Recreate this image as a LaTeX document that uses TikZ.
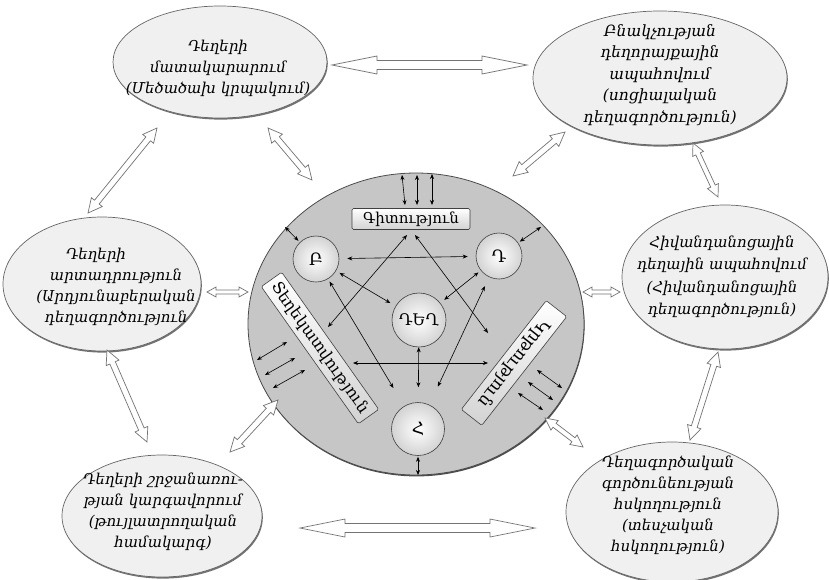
\documentclass[tikz,border=0pt]{standalone}
\usepackage{fontspec}
\setmainfont{DejaVu Serif}
\usetikzlibrary{arrows.meta,calc,shapes.geometric,shadows}
\newcommand\hollowarrow[6][]{%
  \coordinate (ha1) at ($(#2)!#4!(#3)$);
  \coordinate (ha2) at ($(#3)!#4!(#2)$);
  \draw[bigarr,#1] (#2) -- ($(ha1)!#5!90:(#3)$) -- ($(ha1)!#6!90:(#3)$)
    -- ($(ha2)!#6!-90:(#2)$) -- ($(ha2)!#5!-90:(#2)$) -- (#3)
    -- ($(ha2)!#5!90:(#2)$) -- ($(ha2)!#6!90:(#2)$)
    -- ($(ha1)!#6!-90:(#3)$) -- ($(ha1)!#5!-90:(#3)$) -- cycle;
}
\begin{document}
\begin{tikzpicture}[x=1pt,y=-1pt,
  outer/.style={ellipse, draw=black!60, line width=0.7pt, fill=gray!12, inner sep=0pt,
     drop shadow={shadow xshift=0.8pt,shadow yshift=-1.6pt,fill=black!55,opacity=1}},
  otext/.style={align=center, inner sep=0pt},
  bigc/.style={ellipse, draw=black!70, line width=0.8pt, fill=gray!45, inner sep=0pt,
     drop shadow={shadow xshift=0.6pt,shadow yshift=-1.4pt,fill=black!70,opacity=1}},
  ball/.style={circle, draw=black!75, line width=0.6pt, inner sep=0pt, shading=radial,
     inner color=white, outer color=gray!35, font=\fontsize{17}{17}\selectfont},
  boxr/.style={rectangle, rounded corners=1.5pt, draw=black!75, line width=0.6pt, inner sep=0pt,
     top color=white, bottom color=gray!35, font=\fontsize{16}{16}\selectfont},
  sarr/.style={{Stealth[length=5pt,width=4pt]}-{Stealth[length=5pt,width=4pt]}, line width=0.6pt},
  bigarr/.style={draw=black!55, line width=0.7pt, fill=white, line join=miter}
]
\useasboundingbox (0,0) rectangle (829,579);

% outer ellipses
\node[outer, minimum width=214, minimum height=112] (tl) at (220,62) {};
\node[outer, minimum width=254, minimum height=134] (tr) at (660,78) {};
\node[outer, minimum width=198, minimum height=134] (ml) at (102,284) {};
\node[outer, minimum width=206, minimum height=144] (mr) at (725,277) {};
\node[outer, minimum width=200, minimum height=122] (bl) at (162,516) {};
\node[outer, minimum width=212, minimum height=140] (br) at (672,512) {};

\begin{scope}[every node/.style={otext, font=\itshape\fontsize{15}{21}\selectfont}]
\node (tlt) at (218,68) {Դեղերի\\ մատակարարում\\ (Մեծածախ կրպակում)};
\node[font=\itshape\fontsize{15.5}{21.5}\selectfont] (trt) at (660,75) {Բնակչության\\ դեղորայքային\\ ապահովում\\ (սոցիալական\\ դեղագործություն)};
\node (mlt) at (116,287) {Դեղերի\hspace*{40pt}\\ արտադրություն\\ (Արդյունաբերական\\ դեղագործություն};
\node[font=\itshape\fontsize{15}{22.5}\selectfont] (mrt) at (722,277) {Հիվանդանոցային\\ դեղային ապահովում\\ (Հիվանդանոցային\\ դեղագործություն)};
\node (blt) at (163,512) {Դեղերի շրջանառու-\\ թյան կարգավորում\\ (թույլատրողական\\ համակարգ)};
\node (brt) at (668,505) {Դեղագործական\\ գործունեության\\ հսկողություն\\ (տեսչական\\ հսկողություն)};
\end{scope}

% central ellipse
\node[bigc, minimum width=336, minimum height=302] (C) at (416,324) {};
\node[ball, minimum size=46] (B) at (316,259) {Բ};
\node[ball, minimum size=46] (D) at (499,256) {Դ};
\node[ball, minimum size=54, font=\fontsize{16}{16}\selectfont] (DEG) at (419,320) {ԴԵՂ};
\node[ball, minimum size=53] (H) at (418,429) {Հ};
\node[boxr, minimum width=118, minimum height=21, font=\fontsize{15}{15}\selectfont] (G) at (411,219) {Գիտություն};
\node[boxr, rotate=-54.7, minimum width=168, minimum height=25] (T) at (320,348) {Տեղեկատվություն};
\node[boxr, rotate=232, minimum width=138, minimum height=26, font=\fontsize{17}{17}\selectfont] (K) at (514,363) {Կրթություն};

% big hollow arrows
\coordinate (p1) at (332,65); \coordinate (p2) at (527,65);
\coordinate (p3) at (300,528); \coordinate (p4) at (535,528);
\coordinate (p5) at (268,128); \coordinate (p6) at (312,180);
\coordinate (p7) at (565,132); \coordinate (p8) at (513,176);
\coordinate (p9) at (157,128); \coordinate (p10) at (88,213);
\coordinate (p11) at (693,143); \coordinate (p12) at (718,197);
\coordinate (p13) at (207,292); \coordinate (p14) at (248,292);
\coordinate (p15) at (583,292); \coordinate (p16) at (620,292);
\coordinate (p17) at (107,350); \coordinate (p18) at (147,442);
\coordinate (p19) at (718,352); \coordinate (p20) at (690,440);
\coordinate (p21) at (230,452); \coordinate (p22) at (278,400);
\coordinate (p23) at (583,447); \coordinate (p24) at (545,418);
\hollowarrow{p1}{p2}{45pt}{9pt}{4.5pt}
\hollowarrow{p3}{p4}{45pt}{9pt}{4.5pt}
\hollowarrow{p5}{p6}{14pt}{7pt}{3pt}
\hollowarrow{p7}{p8}{14pt}{7pt}{3pt}
\hollowarrow{p9}{p10}{14pt}{7pt}{3pt}
\hollowarrow{p11}{p12}{12pt}{6pt}{2.5pt}
\hollowarrow{p13}{p14}{9pt}{5pt}{2pt}
\hollowarrow{p15}{p16}{9pt}{5pt}{2pt}
\hollowarrow{p17}{p18}{14pt}{7pt}{3pt}
\hollowarrow{p19}{p20}{14pt}{7pt}{3pt}
\hollowarrow{p21}{p22}{14pt}{7pt}{3pt}
\hollowarrow{p23}{p24}{12pt}{6pt}{2.5pt}

% small arrows
\coordinate (s1a) at (402,175); \coordinate (s1b) at (405,205);
\coordinate (s2a) at (417,175); \coordinate (s2b) at (417,205);
\coordinate (s3a) at (432,174); \coordinate (s3b) at (432,205);
\draw[sarr] (s1a) -- (s1b);
\draw[sarr] (s2a) -- (s2b);
\draw[sarr] (s3a) -- (s3b);
\coordinate (c1) at (285,227); \draw[sarr, shorten >=2pt] (c1) -- (B);
\coordinate (c2) at (541,227); \draw[sarr, shorten >=2pt] (c2) -- (D);
\draw[sarr, shorten <=8pt, shorten >=8pt] (B) -- (D);
\draw[sarr, shorten <=4pt, shorten >=6pt] (B) -- (DEG);
\draw[sarr, shorten <=3pt, shorten >=5pt] (D) -- (DEG);
\draw[sarr, shorten <=3pt, shorten >=21pt] (B) -- (H);
\draw[sarr, shorten <=10pt, shorten >=20pt] (D) -- (H);
\draw[sarr, shorten >=15pt] (DEG) -- (H);
\coordinate (g1) at (407,235); \coordinate (t1) at (328,327);
\coordinate (g2) at (415,235); \coordinate (k1) at (488,333);
\draw[sarr] (g1) -- (t1);
\draw[sarr] (g2) -- (k1);
\coordinate (t2) at (353,363); \coordinate (k2) at (488,363);
\draw[sarr] (t2) -- (k2);
\coordinate (l1a) at (257,360); \coordinate (l1b) at (287,342);
\coordinate (l2a) at (265,375); \coordinate (l2b) at (295,358);
\coordinate (l3a) at (273,388); \coordinate (l3b) at (305,370);
\draw[sarr] (l1a) -- (l1b);
\draw[sarr] (l2a) -- (l2b);
\draw[sarr] (l3a) -- (l3b);
\coordinate (r1a) at (537,370); \coordinate (r1b) at (562,388);
\coordinate (r2a) at (528,382); \coordinate (r2b) at (553,400);
\coordinate (r3a) at (518,393); \coordinate (r3b) at (543,410);
\draw[sarr] (r1a) -- (r1b);
\draw[sarr] (r2a) -- (r2b);
\draw[sarr] (r3a) -- (r3b);
\coordinate (hb) at (418,475);
\draw[sarr, shorten <=1pt] (H) -- (hb);
\end{tikzpicture}
\end{document}
